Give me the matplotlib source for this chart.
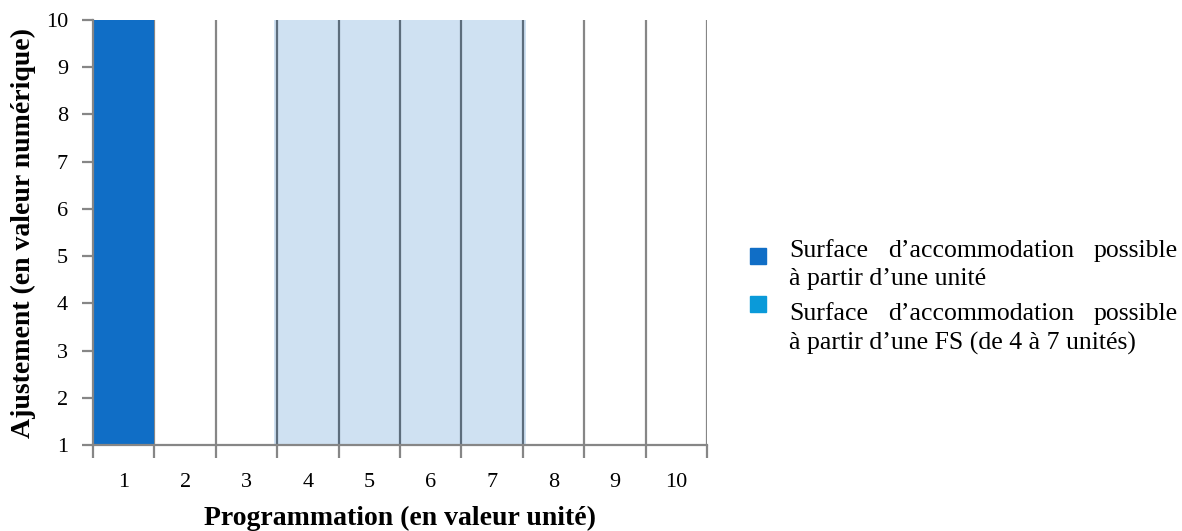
import matplotlib
matplotlib.use("Agg")
import matplotlib.pyplot as plt
import numpy as np

# data
categories = [1, 2, 3, 4, 5, 6, 7, 8, 9, 10]
y_ticks = [1, 2, 3, 4, 5, 6, 7, 8, 9, 10]
unit_bar_cat = 1          # accommodation from one unit
unit_bar_top = 10
fs_band = (4, 7)          # accommodation from an FS (4 to 7 units)
legend_lines = [
    ["Surface", "d\u2019accommodation", "possible"],
    ["\u00e0 partir d\u2019une unit\u00e9"],
    ["Surface", "d\u2019accommodation", "possible"],
    ["\u00e0 partir d\u2019une FS (de 4 \u00e0 7 unit\u00e9s)"],
]

dark_blue = "#106ec6"
band_blue = "#cfe1f2"
legend_cyan = "#0a9ad9"
axis_gray = "#868686"
serif = ["Liberation Serif", "DejaVu Serif"]

W, H = 1182, 531
fig = plt.figure(figsize=(W / 100, H / 100), dpi=100)
ax = fig.add_axes([93 / W, 86 / H, 614 / W, 425 / H])

n = len(categories)
ax.set_xlim(0, n)
ax.set_ylim(y_ticks[0], y_ticks[-1])

# light band for the FS, slightly wider than the cells
ax.axvspan(fs_band[0] - 1 - 0.05, fs_band[1] + 0.05, color=band_blue, zorder=1, lw=0)

# vertical grid at category boundaries
bounds = np.arange(1, n + 1)
for b in bounds:
    inside = fs_band[0] - 1 <= b <= fs_band[1]
    ax.axvline(b, color="#5d6d7c" if inside else axis_gray, lw=1.6, zorder=2)

# single unit bar
ax.bar(unit_bar_cat - 0.5, unit_bar_top - y_ticks[0], bottom=y_ticks[0], width=1,
       color=dark_blue, zorder=3)

for s in ["top", "right"]:
    ax.spines[s].set_visible(False)
for s in ["left", "bottom"]:
    ax.spines[s].set_color(axis_gray)
    ax.spines[s].set_linewidth(1.6)
    ax.spines[s].set_zorder(4)

ax.set_xticks(np.arange(0, n + 1))
ax.set_xticklabels([])
ax.set_xticks(np.array(categories) - 0.5, minor=True)
ax.set_xticklabels([str(c) for c in categories], minor=True, family=serif, fontsize=16)
ax.tick_params(axis="x", which="major", length=9, width=1.6, color=axis_gray, direction="out")
ax.tick_params(axis="x", which="minor", length=0, pad=20)

ax.set_yticks(y_ticks)
ax.set_yticklabels([str(v) for v in y_ticks], family=serif, fontsize=16)
ax.tick_params(axis="y", length=8, width=1.6, color=axis_gray, pad=10)

ax.set_xlabel("Programmation (en valeur unit\u00e9)", family=serif, fontsize=20,
              fontweight="bold", labelpad=10)
ax.set_ylabel("Ajustement (en valeur num\u00e9rique)", family=serif, fontsize=20,
              fontweight="bold", labelpad=7)

# legend (justified text, drawn by hand)
fig.patches.append(plt.Rectangle((750 / W, 1 - 264 / H), 16 / W, 16 / H,
                                 transform=fig.transFigure, color=dark_blue))
fig.patches.append(plt.Rectangle((750 / W, 1 - 312 / H), 16 / W, 16 / H,
                                 transform=fig.transFigure, color=legend_cyan))
baselines = [257, 285, 320, 350]
x0, x1 = 789, 1178
renderer = fig.canvas.get_renderer()
for words, yy in zip(legend_lines, baselines):
    yf = 1 - yy / H
    if len(words) == 1:
        fig.text(x0 / W, yf, words[0], family=serif, fontsize=18.5, va="baseline")
        continue
    texts = [fig.text(0, yf, w, family=serif, fontsize=18.5, va="baseline") for w in words]
    widths = [t.get_window_extent(renderer).width for t in texts]
    gap = (x1 - x0 - sum(widths)) / (len(words) - 1)
    x = x0
    for t, w in zip(texts, widths):
        t.set_x(x / W)
        x += w + gap

fig.savefig("out.png", dpi=100)
